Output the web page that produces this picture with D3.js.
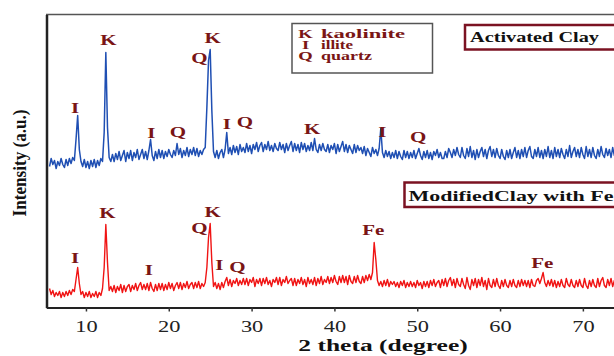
<!DOCTYPE html>
<html>
<head>
<meta charset="utf-8">
<script src="https://cdn.jsdelivr.net/npm/d3@7"></script>
<style>
  body { margin: 0; background: #fff; }
  svg { display: block; }
</style>
</head>
<body>
<div id="chart"></div>
<script>
// measurement grid (2 theta, degrees)
const thetaStart = 5.6, thetaStep = 0.2;
const xTicks = [10, 20, 30, 40, 50, 60, 70];

// intensity (a.u.), activated clay trace (upper, blue)
const activatedClay = [
  141,149,143,147,139,146,142,149,
  143,140,148,142,149,144,150,147,168,192,
  158,146,141,148,140,146,139,147,141,148,
  140,147,142,149,146,175,255,180,150,146,
  153,146,154,148,156,147,152,157,146,155,
  149,157,147,155,150,158,148,153,158,149,
  156,148,157,168,152,147,156,149,158,150,
  157,149,156,151,158,153,150,157,152,164,
  153,159,150,157,152,160,151,158,153,160,
  152,159,151,157,153,158,160,200,247,258,
  197,156,150,157,149,155,158,150,158,175,
  154,160,153,162,155,161,153,163,156,160,
  155,164,156,162,154,163,158,165,156,162,
  165,156,163,158,166,157,162,156,164,159,
  157,165,158,163,155,164,157,162,166,156,
  164,157,163,155,165,158,164,156,162,157,
  165,157,169,158,155,163,157,164,158,156,
  163,155,162,158,164,154,163,156,161,166,
  156,163,155,162,158,154,163,155,162,157,
  160,154,161,152,159,155,151,160,154,158,
  152,159,179,155,150,157,151,156,149,155,
  150,157,149,156,151,148,157,150,156,149,
  155,150,157,149,154,159,152,148,156,150,
  157,149,155,148,156,152,158,150,155,149,
  149,156,150,159,155,150,158,152,160,153,
  150,160,152,149,159,151,161,150,157,148,
  158,150,156,160,151,158,149,157,161,151,
  158,150,159,152,149,158,151,148,157,150,
  158,149,155,160,150,157,149,158,151,160,
  150,157,161,151,149,158,151,160,150,157,
  149,158,151,161,150,157,149,160,151,158,
  150,159,153,149,158,151,162,150,156,160,
  151,158,150,160,153,149,161,151,158,150,
  160,152,149,158,151,161,153,150,159,152,
  158,150,160,152,159
];

// intensity (a.u.), clay modified with Fe (lower, red)
const modifiedClay = [
  19,13,17,11,15,12,16,10,
  15,11,16,12,17,13,18,16,28,40,
  24,13,16,10,15,11,16,10,14,11,
  16,10,15,12,19,40,83,45,17,21,
  16,22,15,21,17,23,15,22,16,21,
  23,16,22,18,24,17,22,25,18,23,
  18,24,17,25,19,16,23,17,24,18,
  24,17,23,18,25,19,24,17,22,25,
  19,25,18,24,20,26,19,23,25,19,
  25,20,26,19,24,21,25,40,70,84,
  45,21,25,19,24,18,25,20,26,30,
  22,28,21,27,24,29,22,27,23,29,
  23,29,22,28,25,30,21,28,24,29,
  22,29,24,30,23,27,21,28,25,30,
  23,30,22,28,25,31,24,27,29,22,
  29,22,28,24,30,23,28,21,30,24,
  28,23,30,22,29,24,31,23,28,25,
  31,24,30,25,32,26,23,31,25,32,
  25,31,23,32,26,24,31,25,32,26,
  24,31,25,32,27,33,28,35,65,48,
  27,22,26,21,27,22,28,21,26,23,
  26,21,25,20,26,22,27,20,25,21,
  26,21,25,20,27,22,25,19,26,21,
  26,20,27,22,28,21,25,27,20,28,
  22,29,21,27,30,22,28,20,29,23,
  21,29,23,19,30,22,18,28,22,29,
  20,28,22,30,21,27,18,29,22,20,
  28,21,29,22,19,27,21,28,22,20,
  27,21,28,22,20,27,21,28,22,27,
  21,27,20,28,22,21,27,29,24,29,
  35,25,21,27,22,28,21,27,20,26,
  21,28,22,20,29,23,21,28,22,20,
  27,21,28,22,20,29,22,19,27,21,
  28,22,20,29,21,27,30,22,20,28,
  22,29,21,27,24
];

// phase labels: [text, 2theta, intensity at baseline of label]
const activatedLabels = [
  ["I", 8.7, 195], ["K", 12.7, 263], ["I", 17.9, 170], ["Q", 21.1, 171],
  ["Q", 23.7, 245], ["K", 25.3, 265], ["I", 27.0, 179], ["Q", 29.2, 181],
  ["K", 37.3, 174], ["I", 45.8, 171], ["Q", 50.1, 166]
];
const modifiedLabels = [
  ["I", 8.7, 45], ["K", 12.6, 90], ["I", 17.6, 33], ["Q", 23.7, 75],
  ["K", 25.3, 91], ["I", 26.1, 38], ["Q", 28.3, 36], ["Fe", 44.7, 73],
  ["Fe", 65.1, 40]
];
const legendKeys = ["K", "I", "Q"];
const legendNames = ["kaolinite", "illite", "quartz"];

const W = 614, H = 356;
const labelColor = "#7a1515";
const serif = "'Liberation Serif', 'DejaVu Serif', serif";

const svg = d3.select("#chart").append("svg")
  .attr("width", W).attr("height", H);

const x = d3.scaleLinear().domain([5.2, 74]).range([46.2, 616]);
const y = d3.scaleLinear().domain([0, 293]).range([307.5, 14.5]);

const theta = i => thetaStart + i * thetaStep;

svg.append("defs").append("clipPath").attr("id", "plot")
  .append("rect").attr("x", 47).attr("y", 10).attr("width", W - 47).attr("height", 297);

// top frame line
svg.append("line")
  .attr("x1", 46).attr("x2", W).attr("y1", 14.5).attr("y2", 14.5)
  .attr("stroke", "#555").attr("stroke-width", 1.5);

// traces
const line = d3.line()
  .x((d, i) => x(theta(i)))
  .y(d => y(d));

const traces = svg.append("g").attr("clip-path", "url(#plot)");
traces.append("path").datum(activatedClay)
  .attr("d", line).attr("fill", "none")
  .attr("stroke", "#1f4fb3").attr("stroke-width", 1.5).attr("stroke-linejoin", "round");
traces.append("path").datum(modifiedClay)
  .attr("d", line).attr("fill", "none")
  .attr("stroke", "#f01414").attr("stroke-width", 1.4).attr("stroke-linejoin", "round");

// stretched serif text (the figure's lettering is wide)
function wideText(g, tx, ty, str, size, sx, anchor) {
  return g.append("text")
    .attr("transform", "translate(" + tx + "," + ty + ") scale(" + sx + ",1)")
    .attr("text-anchor", anchor || "middle")
    .attr("font-family", serif).attr("font-weight", "bold")
    .attr("font-size", size)
    .text(str);
}

// peak labels
const labels = svg.append("g").attr("fill", labelColor);
activatedLabels.concat(modifiedLabels).forEach(d => {
  wideText(labels, x(d[1]), y(d[2]), d[0], 14, 1.5);
});

// axes
const xAxis = svg.append("g")
  .attr("transform", "translate(0," + 307.5 + ")")
  .call(d3.axisBottom(x).tickValues(xTicks).tickSize(4).tickSizeOuter(0));
xAxis.select(".domain").attr("stroke", "#222").attr("stroke-width", 2);
xAxis.selectAll(".tick line").attr("stroke", "#333").attr("stroke-width", 1.5);
xAxis.selectAll(".tick text")
  .attr("y", 24.5).attr("dy", 0)
  .attr("transform", "scale(1.4,1)")
  .attr("font-family", serif).attr("font-size", 16).attr("fill", "#222");

svg.append("g")
  .attr("transform", "translate(46.5,0)")
  .call(d3.axisLeft(y).tickValues([]).tickSizeOuter(0))
  .select(".domain").attr("stroke", "#222").attr("stroke-width", 2.5);

// axis titles
wideText(svg, 383, 351, "2 theta (degree)", 17, 1.5).attr("fill", "#111");
svg.append("text")
  .attr("transform", "translate(26,163) scale(1.3,1) rotate(-90)")
  .attr("text-anchor", "middle")
  .attr("font-family", serif).attr("font-weight", "bold")
  .attr("font-size", 15).attr("textLength", 107).attr("lengthAdjust", "spacingAndGlyphs")
  .attr("fill", "#111")
  .text("Intensity (a.u.)");

// legend box
svg.append("rect")
  .attr("x", 292).attr("y", 23.5).attr("width", 140.5).attr("height", 49.5)
  .attr("fill", "#fff").attr("stroke", "#555").attr("stroke-width", 1.5);
const legend = svg.append("g").attr("fill", labelColor);
const legendY = [37.5, 49, 60];
const legendW = [84, 32, 51];
legendKeys.forEach((k, i) => {
  wideText(legend, 305.5, legendY[i], k, 12, 1.55);
  legend.append("text")
    .attr("x", 321).attr("y", legendY[i])
    .attr("font-family", serif).attr("font-weight", "bold").attr("font-size", 12)
    .attr("textLength", legendW[i]).attr("lengthAdjust", "spacingAndGlyphs")
    .text(legendNames[i]);
});

// sample name boxes
function sampleBox(bx, by, bh, str, tx, ty, tw) {
  svg.append("rect")
    .attr("x", bx).attr("y", by).attr("width", W - bx + 10).attr("height", bh)
    .attr("fill", "#fff").attr("stroke", "#7b1222").attr("stroke-width", 2.5);
  svg.append("text")
    .attr("x", tx).attr("y", ty)
    .attr("font-family", serif).attr("font-weight", "bold").attr("font-size", 15)
    .attr("textLength", tw).attr("lengthAdjust", "spacingAndGlyphs")
    .attr("fill", "#111")
    .text(str);
}
sampleBox(465, 25, 24.5, "Activated Clay", 470, 41.5, 129);
sampleBox(404.5, 182.5, 24.5, "ModifiedClay with Fe", 408.5, 200.5, 205);
</script>
</body>
</html>
